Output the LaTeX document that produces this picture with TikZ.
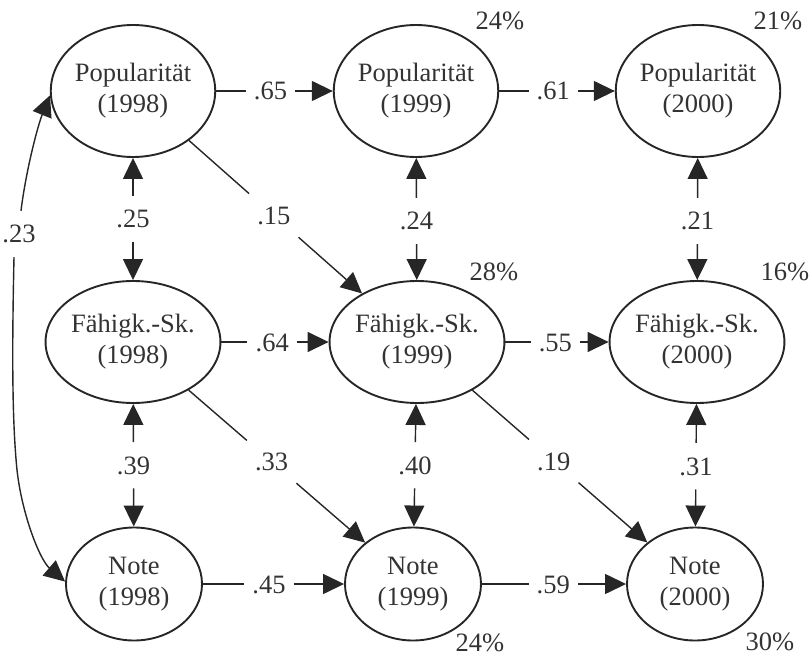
\documentclass[tikz,border=0pt]{standalone}
\usepackage{fontspec}
\setmainfont{Liberation Serif}
\usetikzlibrary{arrows.meta,shapes.geometric}
\definecolor{ink}{gray}{0.2}
\definecolor{wire}{gray}{0.15}
\begin{document}
\begin{tikzpicture}[x=1pt,y=-1pt,
  every node/.style={font=\fontsize{26.5}{31}\selectfont, text=ink},
  latent/.style={ellipse, draw=wire, line width=1.9pt, inner sep=0pt, align=center},
  popnode/.style={latent, minimum width=146pt, minimum height=132pt},
  faenode/.style={latent, minimum width=160pt, minimum height=122pt},
  notenode/.style={latent, minimum width=136pt, minimum height=113pt},
  coef/.style={inner xsep=8pt, inner ysep=14pt, text height=18pt, text depth=0pt},
  share/.style={inner sep=0pt},
  conn/.style={draw=wire, line width=1.4pt},
  tri/.tip={Triangle[length=21pt,width=20pt]}
]
\useasboundingbox (0,0) rectangle (812,658);

% latent variables: three waves, three constructs
\node[popnode]  (p98) at (133,91)  {Popularität\\(1998)};
\node[popnode]  (p99) at (416,91)  {Popularität\\(1999)};
\node[popnode]  (p00) at (698,91)  {Popularität\\(2000)};
\node[faenode]  (f98) at (133,342) {Fähigk.-Sk.\\(1998)};
\node[faenode]  (f99) at (417,342) {Fähigk.-Sk.\\(1999)};
\node[faenode]  (f00) at (697,342) {Fähigk.-Sk.\\(2000)};
\node[notenode] (n98) at (134,584) {Note\\(1998)};
\node[notenode] (n99) at (413,584) {Note\\(1999)};
\node[notenode] (n00) at (695,584) {Note\\(2000)};

% explained variance
\node[share] (v1) at (500,21)  {24\%};
\node[share] (v2) at (778,21)  {21\%};
\node[share] (v3) at (494,272) {28\%};
\node[share] (v4) at (785,272) {16\%};
\node[share] (v5) at (480,643) {24\%};
\node[share] (v6) at (770,642) {30\%};

% stability paths
\path (p98) -- node[coef,pos=0.466] (a1) {.65} (p99);
\draw[conn] (p98) -- (a1); \draw[conn,-tri] (a1) -- (p99);
\path (p99) -- node[coef,pos=0.468] (a2) {.61} (p00);
\draw[conn] (p99) -- (a2); \draw[conn,-tri] (a2) -- (p00);
\path (f98) -- node[coef,pos=0.474] (a3) {.64} (f99);
\draw[conn] (f98) -- (a3); \draw[conn,-tri] (a3) -- (f99);
\path (f99) -- node[coef,pos=0.484] (a4) {.55} (f00);
\draw[conn] (f99) -- (a4); \draw[conn,-tri] (a4) -- (f00);
\path (n98) -- node[coef,pos=0.468] (a5) {.45} (n99);
\draw[conn] (n98) -- (a5); \draw[conn,-tri] (a5) -- (n99);
\path (n99) -- node[coef,pos=0.495] (a6) {.59} (n00);
\draw[conn] (n99) -- (a6); \draw[conn,-tri] (a6) -- (n00);

% cross-lagged paths
\path (p98) -- node[coef,pos=0.49] (d1) {.15} (f99);
\draw[conn] (p98) -- (d1); \draw[conn,-tri] (d1) -- (f99);
\path (f98) -- node[coef,pos=0.47] (d2) {.33} (n99);
\draw[conn] (f98) -- (d2); \draw[conn,-tri] (d2) -- (n99);
\path (f99) -- node[coef,pos=0.465] (d3) {.19} (n00);
\draw[conn] (f99) -- (d3); \draw[conn,-tri] (d3) -- (n00);

% within-wave correlations
\path (p98) -- node[coef,pos=0.5] (c1) {.25} (f98);
\draw[conn,-tri] (c1) -- (p98); \draw[conn,-tri] (c1) -- (f98);
\path (p99) -- node[coef,pos=0.516] (c2) {.24} (f99);
\draw[conn,-tri] (c2) -- (p99); \draw[conn,-tri] (c2) -- (f99);
\path (p00) -- node[coef,pos=0.516] (c3) {.21} (f00);
\draw[conn,-tri] (c3) -- (p00); \draw[conn,-tri] (c3) -- (f00);
\path (f98) -- node[coef,pos=0.5] (c4) {.39} (n98);
\draw[conn,-tri] (c4) -- (f98); \draw[conn,-tri] (c4) -- (n98);
\path (f99) -- node[coef,pos=0.5] (c5) {.40} (n99);
\draw[conn,-tri] (c5) -- (f99); \draw[conn,-tri] (c5) -- (n99);
\path (f00) -- node[coef,pos=0.507] (c6) {.31} (n00);
\draw[conn,-tri] (c6) -- (f00); \draw[conn,-tri] (c6) -- (n00);

% popularity 1998 with grade 1998
\node[coef] (r23) at (19,234) {.23};
\coordinate (k23) at (17,470);
\draw[conn,-tri] ([xshift=2pt]r23.north) .. controls (26,170) and (38,125) .. (p98.183);
\draw[conn,-tri] ([xshift=-5pt]r23.south) .. controls (12,350) and (12,420) .. (k23)
  .. controls (22,515) and (40,560) .. (n98.178);
\end{tikzpicture}
\end{document}
